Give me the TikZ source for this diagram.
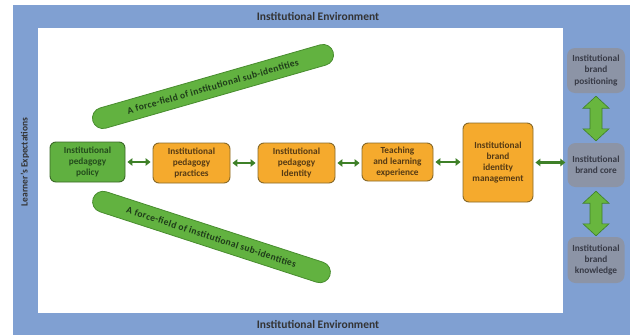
\documentclass[tikz,border=0pt]{standalone}
\usepackage{fontspec}
\setmainfont{Carlito}
\usetikzlibrary{calc,arrows.meta,shapes.misc}
\definecolor{frameblue}{RGB}{128,160,210}
\definecolor{barfill}{RGB}{98,178,64}
\definecolor{barline}{RGB}{72,140,46}
\definecolor{bartext}{RGB}{30,60,25}
\definecolor{polfill}{RGB}{96,176,64}
\definecolor{polline}{RGB}{58,105,38}
\definecolor{poltext}{RGB}{35,75,28}
\definecolor{orfill}{RGB}{245,170,45}
\definecolor{orline}{RGB}{135,105,40}
\definecolor{ortext}{RGB}{85,58,20}
\definecolor{grfill}{RGB}{140,148,166}
\definecolor{grtext}{RGB}{55,58,70}
\definecolor{arfill}{RGB}{104,182,62}
\definecolor{arline}{RGB}{62,128,40}
\newcommand{\vdarrow}[2]{%
  \path[bigarrow] let \p1=(#1), \p2=(#2) in
    (\x1,\y1) -- (\x1+13pt,\y1-12pt) -- (\x1+6pt,\y1-12pt) -- (\x1+6pt,\y2+12pt)
    -- (\x1+13pt,\y2+12pt) -- (\x1,\y2) -- (\x1-13pt,\y2+12pt) -- (\x1-6pt,\y2+12pt)
    -- (\x1-6pt,\y1-12pt) -- (\x1-13pt,\y1-12pt) -- cycle;}
\tikzset{
  boxtext/.style={font=\fontsize{9.3}{11.2}\selectfont\bfseries, align=center, inner sep=1pt},
  polbox/.style={boxtext, rounded corners=6pt, fill=polfill, draw=polline, line width=0.9pt, text=poltext},
  orbox/.style={boxtext, rounded corners=6pt, fill=orfill, draw=orline, line width=0.9pt, text=ortext},
  grbox/.style={boxtext, rounded corners=8pt, fill=grfill, text=grtext},
  forcebar/.style={rounded rectangle, fill=barfill, draw=barline, line width=0.8pt, text=bartext,
    minimum height=21pt, inner sep=0pt, font=\fontsize{9.5}{11}\selectfont\bfseries\addfontfeatures{LetterSpace=4}},
  harrow/.style={draw=arline, line width=2.2pt, {Triangle[length=5pt,width=7.5pt]}-{Triangle[length=5pt,width=7.5pt]},
    shorten <=2pt, shorten >=2pt},
  bigarrow/.style={fill=arfill, draw=arline, line width=0.6pt},
  envlabel/.style={font=\fontsize{11.5}{13}\selectfont\bfseries, text=black!80, inner sep=0pt}
}
\begin{document}
\begin{tikzpicture}[x=1pt,y=-1pt]
\useasboundingbox (0,0) rectangle (630,335);
\fill[white] (0,0) rectangle (630,335);
\fill[frameblue] (13,5) rectangle (630,335);
\fill[white] (38,28) rectangle (563,313);
\node[envlabel] (toplab) at (318,16) {Institutional Environment};
\node[envlabel] (botlab) at (318,324) {Institutional Environment};
\node[envlabel, font=\fontsize{9.5}{11}\selectfont\bfseries, rotate=90] (learner) at (25,162) {Learner's Expectations};

\node[forcebar, rotate=16, minimum width=250pt] (barup) at (213,86.5) {A force-field of institutional sub-identities};
\node[forcebar, rotate=-18, minimum width=249pt] (bardown) at (211.5,237) {A force-field of institutional sub-identities};

\node[polbox, minimum width=75pt, minimum height=40pt] (policy) at (87.5,162) {Institutional\\pedagogy\\policy};
\node[orbox, minimum width=77pt, minimum height=40pt] (practices) at (191.5,163) {Institutional\\pedagogy\\practices};
\node[orbox, minimum width=77pt, minimum height=40pt] (identity) at (296.5,163) {Institutional\\pedagogy\\Identity};
\node[orbox, minimum width=71pt, minimum height=38pt] (teaching) at (397.5,162) {Teaching\\and learning\\experience};
\node[orbox, minimum width=70pt, minimum height=79pt] (management) at (498,162.5) {Institutional\\brand\\identity\\management};

\node[grbox, minimum width=58pt, minimum height=45pt] (positioning) at (596,70.5) {Institutional\\brand\\positioning};
\node[grbox, minimum width=57pt, minimum height=44pt] (core) at (596,165) {Institutional\\brand core};
\node[grbox, minimum width=57pt, minimum height=46pt] (knowledge) at (596,260) {Institutional\\brand\\knowledge};

\draw[harrow] (policy.east) -- (practices.west |- policy.east);
\draw[harrow] (practices.east) -- (identity.west);
\draw[harrow] (identity.east) -- (teaching.west |- identity.east);
\draw[harrow] (teaching.east) -- (management.west |- teaching.east);
\draw[harrow] (management.east) -- (core.west |- management.east);

\vdarrow{$(positioning.south)+(0,3)$}{$(core.north)+(0,-2)$}
\vdarrow{$(core.south)+(0,4)$}{$(knowledge.north)+(0,-1)$}
\end{tikzpicture}
\end{document}
